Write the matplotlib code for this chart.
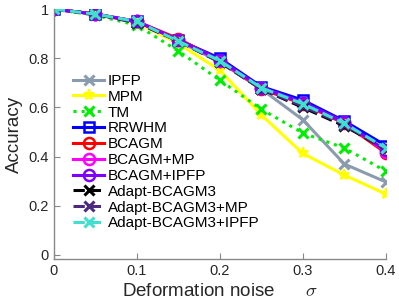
import matplotlib
matplotlib.use("Agg")
import matplotlib.pyplot as plt

plt.rcParams['font.family'] = ['Liberation Sans', 'DejaVu Sans']
plt.rcParams['mathtext.fontset'] = 'cm'

x = [0, 0.05, 0.1, 0.15, 0.2, 0.25, 0.3, 0.35, 0.4]
ipfp = [1, 0.98, 0.945, 0.87, 0.785, 0.675, 0.55, 0.37, 0.297]
mpm = [1, 0.98, 0.945, 0.86, 0.752, 0.57, 0.413, 0.325, 0.248]
tm = [1, 0.975, 0.935, 0.83, 0.711, 0.593, 0.496, 0.435, 0.341]
rrwhm = [1, 0.98, 0.95, 0.875, 0.80, 0.685, 0.63, 0.545, 0.445]
bcagm = [1, 0.98, 0.95, 0.88, 0.79, 0.675, 0.615, 0.535, 0.415]
bcagm_mp = [1, 0.98, 0.95, 0.875, 0.79, 0.68, 0.62, 0.54, 0.42]
bcagm_ipfp = [1, 0.98, 0.95, 0.875, 0.795, 0.68, 0.62, 0.54, 0.425]
adapt = [1, 0.98, 0.945, 0.87, 0.785, 0.675, 0.60, 0.525, 0.43]
adapt_mp = [1, 0.98, 0.945, 0.87, 0.785, 0.675, 0.605, 0.53, 0.43]
adapt_ipfp = [1, 0.98, 0.95, 0.87, 0.79, 0.68, 0.615, 0.535, 0.435]

labels = ['IPFP', 'MPM', 'TM', 'RRWHM', 'BCAGM', 'BCAGM+MP', 'BCAGM+IPFP',
          'Adapt-BCAGM3', 'Adapt-BCAGM3+MP', 'Adapt-BCAGM3+IPFP']
xticks = [0, 0.1, 0.2, 0.3, 0.4]
xticklabels = ['0', '0.1', '0.2', '0.3', '0.4']
yticks = [0, 0.2, 0.4, 0.6, 0.8, 1.0]
yticklabels = ['0', '0.2', '0.4', '0.6', '0.8', '1']

series = [ipfp, mpm, tm, rrwhm, bcagm, bcagm_mp, bcagm_ipfp, adapt, adapt_mp, adapt_ipfp]
styles = [
    dict(color='#8a9bb0', ls='-', marker='x', ms=7, mew=2.2),
    dict(color='#ffff00', ls='-', marker='*', ms=8, mew=1.5),
    dict(color='#00ee00', ls=':', marker='x', ms=7, mew=2.2),
    dict(color='#0000ff', ls='-', marker='s', ms=7, mew=1.8, mfc='none'),
    dict(color='#ff0000', ls='-', marker='o', ms=8, mew=1.8, mfc='none'),
    dict(color='#ff00ff', ls='-', marker='o', ms=8, mew=1.8, mfc='none'),
    dict(color='#8000ff', ls='-', marker='o', ms=8, mew=1.8, mfc='none'),
    dict(color='#000000', ls='--', marker='x', ms=7, mew=2.2),
    dict(color='#4b2a80', ls='--', marker='x', ms=7, mew=2.2),
    dict(color='#40e0d0', ls='--', marker='x', ms=7, mew=2.2),
]

fig = plt.figure(figsize=(3.99, 3.06), dpi=100)
ax = fig.add_axes([0.135, 0.154, 0.832, 0.816])
for s, lab, st in zip(series, labels, styles):
    ax.plot(x, s, label=lab, lw=2.2, **st)

ax.set_xlim(0, 0.4)
ax.set_ylim(-0.016, 1.0)
ax.set_xticks(xticks)
ax.set_xticklabels(xticklabels)
ax.set_yticks(yticks)
ax.set_yticklabels(yticklabels)
for sp in ['top', 'right']:
    ax.spines[sp].set_visible(False)
for sp in ['left', 'bottom']:
    ax.spines[sp].set_color('#888888')
    ax.spines[sp].set_linewidth(1.0)
ax.tick_params(direction='in', length=4, colors='#888888', labelcolor='#262626', labelsize=10.5)
ax.set_xlabel('Deformation noise      $\\sigma$', fontsize=13.5, color='#262626', labelpad=4)
ax.set_ylabel('Accuracy', fontsize=13.5, color='#262626', labelpad=4)

leg = ax.legend(loc='upper left', bbox_to_anchor=(0.04, 0.765), frameon=False,
                fontsize=11, handlelength=2.0, handletextpad=0.25,
                labelspacing=0.12, borderaxespad=0)

fig.savefig('out.png', dpi=100)
